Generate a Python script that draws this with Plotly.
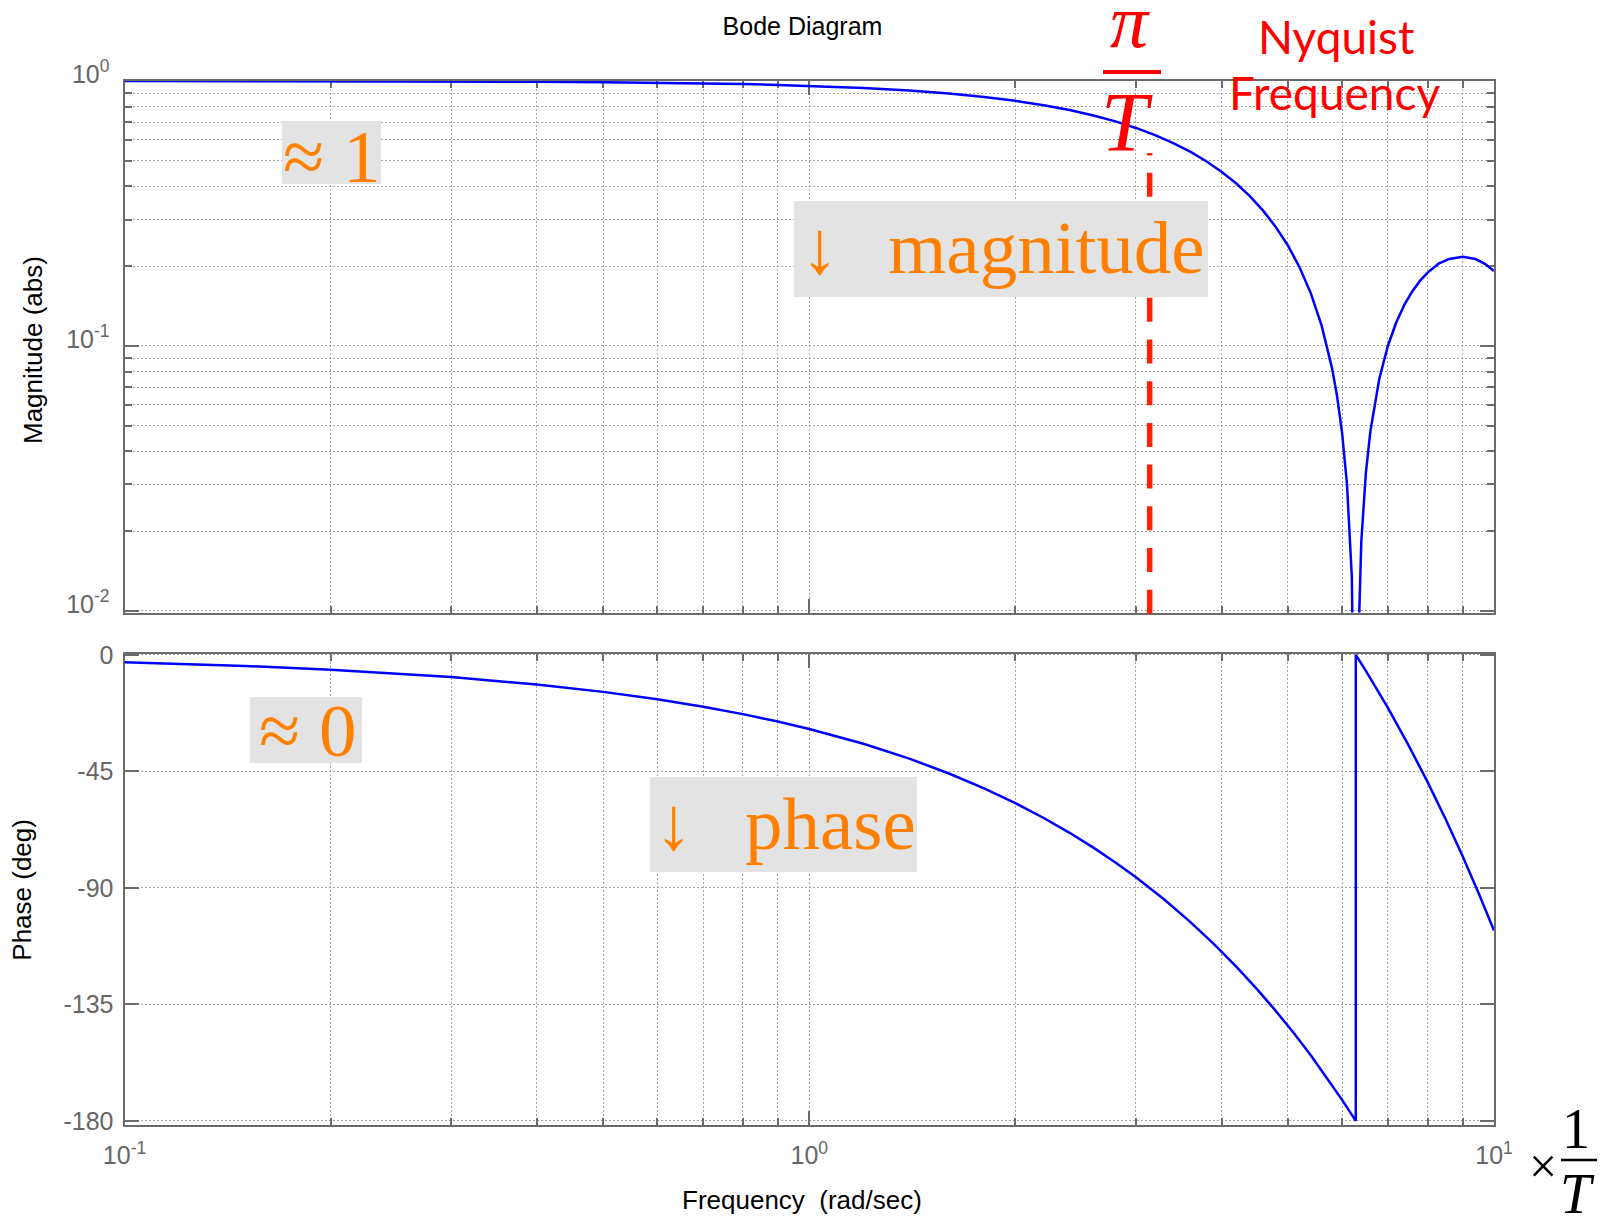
import math
import plotly.graph_objects as go

W, H = 1607, 1216

# Magnitude response |G(jw)| sampled along the frequency axis (rad/sec)
mag_freq = [0.1, 0.2, 0.3, 0.4, 0.5, 0.6, 0.7, 0.8, 0.9, 1.0,
            1.2, 1.4, 1.6, 1.8, 2.0, 2.2, 2.4, 2.6, 2.8, 3.0, 3.2, 3.4,
            3.6, 3.8, 4.0, 4.2, 4.4, 4.6, 4.8, 5.0, 5.2, 5.4, 5.6, 5.8,
            5.9, 6.0, 6.1, 6.2, 6.25, 6.28, 6.32, 6.4, 6.5, 6.6,
            6.8, 7.0, 7.2, 7.4, 7.6, 7.8, 8.0,
            8.3, 8.6, 9.0, 9.4, 9.7, 10.0]
mag_vals = [0.9996, 0.9983, 0.9963, 0.9933, 0.9896, 0.9851, 0.9797, 0.9736, 0.9666, 0.9589,
            0.9411, 0.9203, 0.8967, 0.8704, 0.8415, 0.8102, 0.7767, 0.7412, 0.7039, 0.6650, 0.6247, 0.5833,
            0.5410, 0.4981, 0.4547, 0.4111, 0.3675, 0.3242, 0.2814, 0.2394, 0.1983, 0.1583, 0.1196, 0.0825,
            0.0646, 0.0470, 0.0300, 0.0134, 0.0053, 0.0010, 0.0058, 0.0182, 0.0333, 0.0478,
            0.0752, 0.1002, 0.1229, 0.1432, 0.1610, 0.1764, 0.1892,
            0.2044, 0.2131, 0.2172, 0.2128, 0.2042, 0.1918]

# Phase response in degrees (wraps from -180 back to 0 at the notch)
phase_freq = [0.1, 0.15, 0.2, 0.25, 0.3, 0.4, 0.5, 0.6, 0.7, 0.8, 0.9, 1.0,
              1.2, 1.4, 1.6, 1.8, 2.0, 2.2, 2.4, 2.6, 2.8, 3.0,
              3.3, 3.6, 3.9, 4.2, 4.5, 4.8, 5.1, 5.4, 5.7, 6.0,
              6.2832, 6.2832, 6.5, 7.0, 7.5, 8.0, 8.5, 9.0, 9.5, 10.0]
phase_vals = [-2.86, -4.30, -5.73, -7.16, -8.59, -11.46, -14.32, -17.19, -20.05, -22.92, -25.78, -28.65,
              -34.38, -40.11, -45.84, -51.57, -57.30, -63.03, -68.75, -74.48, -80.21, -85.94,
              -94.54, -103.13, -111.73, -120.32, -128.92, -137.51, -146.10, -154.70, -163.29, -171.89,
              -180.0, 0.0, -6.21, -20.54, -34.86, -49.18, -63.51, -77.83, -92.16, -106.48]

# Nyquist frequency pi/T with T = 1
nyquist = math.pi

x_ticks = [0.1, 1, 10]
x_ticktext = ["10<sup>-1</sup>", "10<sup>0</sup>", "10<sup>1</sup>"]
x_minor = [0.2, 0.3, 0.4, 0.5, 0.6, 0.7, 0.8, 0.9, 2, 3, 4, 5, 6, 7, 8, 9]
mag_ticks = [0.01, 0.1, 1]
mag_ticktext = ["10<sup>-2</sup>", "10<sup>-1</sup>", "10<sup>0</sup>"]
mag_minor = [0.02, 0.03, 0.04, 0.05, 0.06, 0.07, 0.08, 0.09,
             0.2, 0.3, 0.4, 0.5, 0.6, 0.7, 0.8, 0.9]
phase_ticks = [0, -45, -90, -135, -180]
phase_ticktext = ["0", "-45", "-90", "-135", "-180"]


def px(x):
    return x / W


def py(y):
    return 1 - y / H


SANS = "Liberation Sans, Arial, sans-serif"
SERIF = "Liberation Serif, Times New Roman, serif"
AXIS_COL = "#6b6b6b"
GRID_COL = "#a6a6a6"
BLUE = "#0000ff"
ORANGE = "#ff8000"
RED = "#ff0000"
DASH_RED = "#ff2200"
BOX = "#e3e3e3"

tick_font = dict(family=SANS, size=25, color="#666666")

common = dict(
    showline=True, linewidth=2, linecolor=AXIS_COL, mirror="allticks",
    ticks="inside", ticklen=14, tickwidth=2, tickcolor=AXIS_COL,
    showgrid=True, gridcolor=GRID_COL, gridwidth=1, griddash="2px,2px",
    zeroline=False, layer="below traces", tickfont=tick_font, automargin=False,
)


def minor(vals):
    return dict(tickvals=vals, ticks="inside", ticklen=7, tickwidth=2, tickcolor=AXIS_COL,
                showgrid=True, gridcolor=GRID_COL, gridwidth=1, griddash="2px,2px")


fig = go.Figure()
fig.add_trace(go.Scatter(x=mag_freq, y=mag_vals, mode="lines",
                         line=dict(color=BLUE, width=2.5), xaxis="x", yaxis="y",
                         showlegend=False))
fig.add_trace(go.Scatter(x=phase_freq, y=phase_vals, mode="lines",
                         line=dict(color=BLUE, width=2.5), xaxis="x2", yaxis="y2",
                         showlegend=False))

x_dom = [px(124.5), px(1494)]

fig.update_layout(
    template="none",
    width=W, height=H, autosize=False, margin=dict(l=0, r=0, t=0, b=0, pad=0),
    paper_bgcolor="white", plot_bgcolor="white",
    title=dict(text="Bode Diagram", x=px(802.5), y=py(26.7), xanchor="center", yanchor="middle",
               font=dict(family=SANS, size=25, color="black")),
    xaxis=dict(type="log", range=[-1, 1], domain=x_dom, anchor="y",
               tickvals=x_ticks, showticklabels=False, minor=minor(x_minor), **common),
    yaxis=dict(type="log", range=[-2.006, 0], domain=[py(612.5), py(81)], anchor="x",
               tickvals=mag_ticks, ticktext=mag_ticktext, minor=minor(mag_minor),
               ticklabelstandoff=8, ticklabelshift=-7, **common),
    xaxis2=dict(type="log", range=[-1, 1], domain=x_dom, anchor="y2", matches="x",
                tickvals=x_ticks, ticktext=x_ticktext, minor=minor(x_minor),
                ticklabelstandoff=7, **common),
    yaxis2=dict(range=[-181.6, 0.5], domain=[py(1125), py(653.5)], anchor="x2",
                tickvals=phase_ticks, ticktext=phase_ticktext,
                ticklabelstandoff=4, **common),
)

shapes = [
    # dashed marker at the Nyquist frequency (plus the short stub just under the T)
    dict(type="line", xref="x", yref="paper", x0=nyquist, x1=nyquist, y0=py(153), y1=py(155.5),
         line=dict(color=DASH_RED, width=5.5), layer="above"),
    dict(type="line", xref="x", yref="paper", x0=nyquist, x1=nyquist, y0=py(172.7), y1=py(617),
         line=dict(color=DASH_RED, width=5.5, dash="24px,17.7px"), layer="above"),
    # grey callout boxes
    dict(type="rect", xref="paper", yref="paper", x0=px(282), x1=px(381), y0=py(184), y1=py(121),
         fillcolor=BOX, line=dict(width=0), layer="above"),
    dict(type="rect", xref="paper", yref="paper", x0=px(794), x1=px(1208), y0=py(297), y1=py(201),
         fillcolor=BOX, line=dict(width=0), layer="above"),
    dict(type="rect", xref="paper", yref="paper", x0=px(250), x1=px(362), y0=py(763), y1=py(697),
         fillcolor=BOX, line=dict(width=0), layer="above"),
    dict(type="rect", xref="paper", yref="paper", x0=px(650), x1=px(917), y0=py(872), y1=py(777),
         fillcolor=BOX, line=dict(width=0), layer="above"),
    # fraction bars of pi/T and 1/T
    dict(type="line", xref="paper", yref="paper", x0=px(1103), x1=px(1161), y0=py(72), y1=py(72),
         line=dict(color=RED, width=4), layer="above"),
    dict(type="line", xref="paper", yref="paper", x0=px(1561), x1=px(1597), y0=py(1160), y1=py(1160),
         line=dict(color="black", width=2.5), layer="above"),
]


def text(t, cx, cy, size, color, family, angle=0, **extra):
    d = dict(text=t, x=px(cx), y=py(cy), xref="paper", yref="paper",
             xanchor="center", yanchor="middle", showarrow=False, textangle=angle,
             borderpad=0, borderwidth=0,
             font=dict(size=size, color=color, family=family))
    d.update(extra)
    return d


annotations = [
    text("Magnitude (abs)", 33, 350, 26, "black", SANS, -90),
    text("Phase (deg)", 21.7, 890, 26, "black", SANS, -90),
    text("Frequency\u00a0\u00a0(rad/sec)", 801.5, 1199.7, 26, "black", SANS),
    text("\u2248 1", 331, 156.7, 75, ORANGE, SERIF),
    text("\u2248 0", 307, 730.2, 75, ORANGE, SERIF),
    text("\u2193", 819.5, 247.7, 75, ORANGE, SERIF),
    text("magnitude", 1046, 247.7, 75, ORANGE, SERIF),
    text("\u2193", 674, 823.7, 75, ORANGE, SERIF),
    text("phase", 830, 823.7, 75, ORANGE, SERIF),
    # pi over T, kept inside the top edge with a fixed-height text box
    text("<i>\u03c0</i>", 1129.5, 0, 76, RED, SERIF, yanchor="top", height=63, valign="bottom"),
    text("<i>T</i>", 1127, 122.6, 84, RED, SERIF),
    text("Nyquist", 1336, 36.5, 46, RED, "Lato, sans-serif"),
    text("Frequency", 1334.5, 92.7, 46, RED, "Lato, sans-serif"),
    text("\u00d7", 1542.5, 1166, 50, "black", SERIF),
    text("1", 1576, 1128.5, 56, "black", SERIF),
    # 1/T denominator, kept inside the bottom edge with a fixed-height text box
    text("<i>T</i>", 1577, 1163, 56, "black", SERIF, yanchor="top", height=53, valign="top"),
]

fig.update_layout(shapes=shapes, annotations=annotations)

fig.write_html("out.html")
